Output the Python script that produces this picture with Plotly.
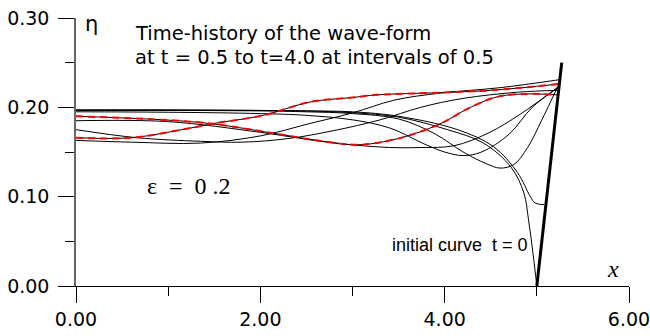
import plotly.graph_objects as go

# ---- data ----
wall_x = [5.00, 5.27]
wall_eta = [0.0, 0.25]

curve_x = {
    "t=0":   [0, 1, 2, 2.5, 3.0, 3.5, 4.03, 4.42, 4.72, 4.86, 4.91, 4.96, 5.0],
    "t=0.5": [0, 1, 2, 2.5, 3.0, 3.5, 4.14, 4.53, 4.79, 4.93, 4.98, 5.08],
    "t=1.0": [0, 1, 2, 2.5, 3.0, 3.5, 3.9, 4.2, 4.45, 4.6, 4.75, 4.9, 5.05, 5.23],
    "t=1.5": [0, 1, 2, 2.5, 3.0, 3.4, 3.8, 4.0, 4.2, 4.4, 4.7, 4.95, 5.23],
    "t=2.0": [0, 1, 2, 2.65, 3.0, 3.4, 3.74, 4.1, 4.47, 4.83, 5.22],
    "t=2.5": [0, 1.35, 2.14, 2.62, 3.05, 3.34, 3.63, 3.96, 4.28, 4.58, 4.9, 5.22],
    "t=3.0": [0, 0.66, 1.35, 1.8, 2.3, 2.8, 3.3, 3.74, 4.2, 4.8, 5.23],
    "t=3.5": [0, 0.6, 1.35, 2.0, 2.54, 3.01, 3.45, 3.96, 4.6, 5.25],
    "t=4.0": [0, 0.6, 1.2, 1.5, 2.03, 2.54, 3.0, 3.27, 3.96, 4.5, 5.23],
}
curve_eta = {
    "t=0":   [0.197, 0.197, 0.1965, 0.196, 0.194, 0.189, 0.175, 0.16, 0.133, 0.104, 0.074, 0.035, 0.0],
    "t=0.5": [0.197, 0.197, 0.1965, 0.196, 0.195, 0.19, 0.175, 0.156, 0.127, 0.1, 0.093, 0.091],
    "t=1.0": [0.1965, 0.1965, 0.196, 0.195, 0.193, 0.187, 0.17, 0.15, 0.137, 0.132, 0.136, 0.155, 0.185, 0.224],
    "t=1.5": [0.195, 0.1945, 0.193, 0.191, 0.186, 0.177, 0.158, 0.15, 0.146, 0.15, 0.17, 0.2, 0.222],
    "t=2.0": [0.185, 0.184, 0.172, 0.162, 0.158, 0.155, 0.155, 0.157, 0.171, 0.193, 0.222],
    "t=2.5": [0.19, 0.183, 0.171, 0.163, 0.158, 0.1616, 0.169, 0.182, 0.2, 0.212, 0.215, 0.214],
    "t=3.0": [0.175, 0.166, 0.162, 0.161, 0.165, 0.174, 0.186, 0.2, 0.21, 0.217, 0.219],
    "t=3.5": [0.163, 0.161, 0.16, 0.168, 0.182, 0.194, 0.208, 0.216, 0.222, 0.231],
    "t=4.0": [0.166, 0.166, 0.176, 0.182, 0.191, 0.206, 0.211, 0.214, 0.2165, 0.219, 0.226],
}
red_times = ["t=2.5", "t=4.0"]

fig = go.Figure()
for name in curve_x:
    fig.add_trace(go.Scatter(x=curve_x[name], y=curve_eta[name], mode="lines",
                             line=dict(color="black", width=1, shape="spline"),
                             showlegend=False, hoverinfo="skip"))
for name in red_times:
    fig.add_trace(go.Scatter(x=curve_x[name], y=curve_eta[name], mode="lines",
                             line=dict(color="#ff0000", width=2, dash="7px,5px", shape="spline"),
                             showlegend=False, hoverinfo="skip"))
fig.add_trace(go.Scatter(x=wall_x, y=wall_eta, mode="lines", line=dict(color="black", width=3),
                         showlegend=False, hoverinfo="skip"))

tickfont = dict(family="DejaVu Sans", size=19, color="black")
fig.update_layout(
    width=650, height=336,
    margin=dict(l=76, r=21, t=18, b=50),
    paper_bgcolor="white", plot_bgcolor="white",
    xaxis=dict(range=[0, 6], tickvals=[0, 2, 4, 6], ticktext=["0.00", "2.00", "4.00", "6.00"],
               ticks="outside", ticklen=16, tickcolor="black", tickwidth=1,
               minor=dict(tickvals=[1, 3, 5], ticks="outside", ticklen=9, tickcolor="black"),
               showline=True, linecolor="black", linewidth=1, showgrid=False, zeroline=False,
               tickfont=tickfont, ticklabelstandoff=0, automargin=False,
               ticklabeloverflow="allow"),
    yaxis=dict(range=[0, 0.3], tickvals=[0, 0.1, 0.2, 0.3], ticktext=["0.00", "0.10", "0.20", "0.30"],
               ticks="outside", ticklen=16, tickcolor="black", tickwidth=1,
               minor=dict(tickvals=[0.05, 0.15, 0.25], ticks="outside", ticklen=9, tickcolor="black"),
               showline=True, linecolor="#666666", linewidth=1.5, showgrid=False, zeroline=False,
               tickfont=tickfont, ticklabelstandoff=5, automargin=False,
               ticklabeloverflow="allow"),
)


def ann(px, py, text, font, xanchor="left", yanchor="middle"):
    fig.add_annotation(x=(px - 76) / 553, y=(286 - py) / 268, xref="paper", yref="paper",
                       text=text, showarrow=False, font=font, xanchor=xanchor, yanchor=yanchor)


ann(133, 34, "Time-history of the wave-form", dict(family="DejaVu Sans", size=19.5, color="black"))
ann(133, 57, "at t = 0.5 to t=4.0 at intervals of 0.5", dict(family="DejaVu Sans", size=19.5, color="black"))
ann(83, 24, "η", dict(family="DejaVu Sans", size=21, color="black"))
ann(145, 186, "ε\u00a0\u00a0=\u00a0\u00a00\u00a0.2", dict(family="Liberation Serif", size=24, color="black"))
ann(390, 245, "initial curve\u00a0\u00a0t = 0", dict(family="Liberation Sans", size=18, color="black"))
ann(605, 269, "<i>x</i>", dict(family="Liberation Serif", size=24, color="black"))

fig.write_html("out.html")
